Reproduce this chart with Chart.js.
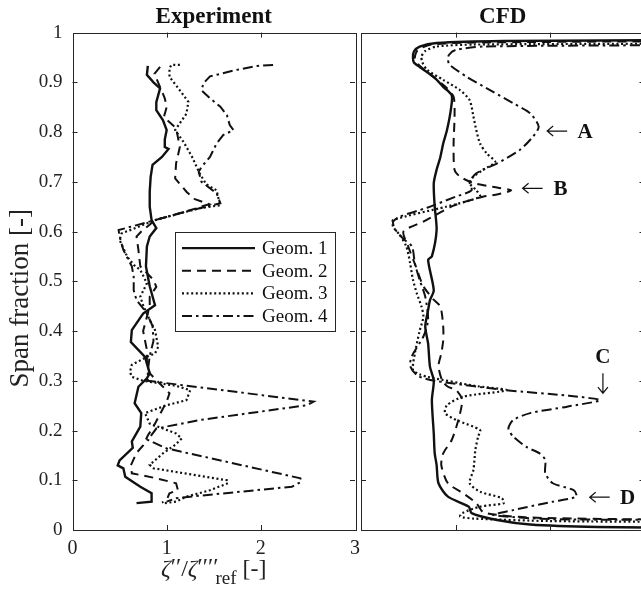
<!DOCTYPE html>
<html>
<head>
<meta charset="utf-8">
<script src="https://cdn.jsdelivr.net/npm/chart.js@4.4.1/dist/chart.umd.min.js"></script>
<style>
  html, body { margin: 0; padding: 0; background: #fff; overflow: hidden; }
  #wrap { position: relative; width: 641px; height: 590px; overflow: hidden; }
  .pane { position: absolute; top: 0; }
  #expPane { left: 0; }
  #cfdPane { left: 330px; }
</style>
</head>
<body>
<div id="wrap">
  <div class="pane" id="expPane"><canvas id="expChart" width="380" height="590"></canvas></div>
  <div class="pane" id="cfdPane"><canvas id="cfdChart" width="330" height="590"></canvas></div>
</div>
<script>
// [ratio, span fraction] pairs, traced from tip to hub as plotted
var geomLabels = ["Geom. 1", "Geom. 2", "Geom. 3", "Geom. 4"];
var ratioTicks = [0, 1, 2, 3];
var spanTicks = [0, 0.1, 0.2, 0.3, 0.4, 0.5, 0.6, 0.7, 0.8, 0.9, 1];

var expGeom1 = [[0.80,0.933],[0.79,0.915],[0.86,0.90],[0.93,0.888],[0.89,0.86],[0.89,0.844],[0.96,0.824],[1.00,0.804],[0.98,0.785],[0.98,0.77],[1.02,0.766],[0.95,0.75],[0.85,0.734],[0.83,0.71],[0.82,0.68],[0.82,0.65],[0.84,0.623],[0.89,0.607],[0.82,0.59],[0.79,0.57],[0.78,0.53],[0.82,0.49],[0.876,0.452],[0.75,0.435],[0.63,0.402],[0.62,0.378],[0.77,0.348],[0.82,0.315],[0.79,0.305],[0.70,0.288],[0.66,0.255],[0.73,0.235],[0.72,0.208],[0.63,0.178],[0.64,0.165],[0.50,0.14],[0.48,0.13],[0.54,0.124],[0.56,0.107],[0.72,0.087],[0.84,0.074],[0.84,0.057],[0.68,0.054]];
var expGeom2 = [[0.93,0.931],[0.87,0.917],[0.92,0.895],[0.98,0.868],[1.0,0.85],[0.97,0.83],[1.1,0.808],[1.14,0.77],[1.1,0.737],[1.09,0.707],[1.21,0.68],[1.3,0.665],[1.45,0.655],[1.2,0.64],[0.876,0.623],[0.73,0.60],[0.68,0.59],[0.70,0.563],[0.72,0.53],[0.86,0.503],[0.89,0.489],[0.82,0.469],[0.82,0.45],[0.75,0.40],[0.79,0.362],[0.79,0.335],[0.82,0.315],[0.95,0.29],[1.03,0.275],[1.0,0.258],[0.86,0.208],[0.80,0.19],[0.75,0.17],[0.68,0.155],[0.62,0.13],[0.63,0.114],[0.89,0.104],[1.1,0.094],[1.12,0.08],[1.03,0.074],[1.0,0.06],[0.95,0.055]];
var expGeom3 = [[1.14,0.935],[1.05,0.935],[1.03,0.928],[1.03,0.911],[1.1,0.894],[1.23,0.861],[1.21,0.837],[1.09,0.804],[1.18,0.78],[1.27,0.75],[1.35,0.717],[1.42,0.695],[1.53,0.683],[1.55,0.667],[1.57,0.653],[1.35,0.647],[0.876,0.623],[0.52,0.596],[0.50,0.583],[0.58,0.55],[0.65,0.533],[0.72,0.523],[0.79,0.496],[0.72,0.469],[0.75,0.452],[0.82,0.422],[0.876,0.402],[0.91,0.368],[0.876,0.355],[0.79,0.348],[0.63,0.332],[0.61,0.318],[0.63,0.308],[0.75,0.30],[1.1,0.29],[1.25,0.281],[1.21,0.261],[1.0,0.251],[0.77,0.235],[0.82,0.214],[1.1,0.194],[1.16,0.184],[1.09,0.171],[0.96,0.154],[0.82,0.131],[0.86,0.124],[1.64,0.10],[1.65,0.094],[1.46,0.08],[1.21,0.067],[1.1,0.057],[0.98,0.054]];
var expGeom4 = [[2.13,0.935],[1.96,0.933],[1.74,0.925],[1.46,0.912],[1.39,0.898],[1.37,0.884],[1.46,0.868],[1.57,0.851],[1.64,0.834],[1.67,0.814],[1.71,0.804],[1.60,0.794],[1.53,0.777],[1.46,0.75],[1.37,0.73],[1.34,0.72],[1.37,0.70],[1.53,0.677],[1.57,0.657],[1.2,0.64],[0.876,0.623],[0.49,0.603],[0.50,0.59],[0.54,0.563],[0.63,0.53],[0.65,0.509],[0.65,0.482],[0.68,0.462],[0.79,0.436],[0.85,0.41],[0.86,0.38],[0.82,0.35],[0.80,0.32],[0.80,0.30],[2.56,0.258],[2.49,0.251],[1.35,0.221],[0.89,0.204],[0.80,0.181],[1.0,0.164],[2.42,0.104],[2.43,0.097],[2.33,0.087],[1.25,0.067],[1.1,0.064],[1.0,0.057]];

var cfdGeom1 = [[3.6,0.985],[1.5,0.983],[0.8,0.979],[0.62,0.972],[0.56,0.962],[0.55,0.95],[0.56,0.94],[0.62,0.931],[0.77,0.911],[0.87,0.891],[0.96,0.874],[0.95,0.844],[0.91,0.804],[0.87,0.777],[0.84,0.75],[0.80,0.724],[0.77,0.697],[0.78,0.65],[0.80,0.603],[0.75,0.55],[0.71,0.543],[0.77,0.482],[0.73,0.462],[0.71,0.442],[0.68,0.409],[0.71,0.375],[0.73,0.328],[0.77,0.30],[0.75,0.261],[0.77,0.194],[0.78,0.154],[0.80,0.131],[0.82,0.094],[0.92,0.067],[1.14,0.047],[1.17,0.034],[1.44,0.02],[1.79,0.011],[2.5,0.006],[3.6,0.004]];
var cfdGeom2 = [[3.6,0.983],[1.2,0.98],[0.75,0.976],[0.6,0.965],[0.57,0.95],[0.6,0.937],[0.75,0.913],[0.9,0.89],[0.98,0.871],[0.99,0.831],[0.98,0.777],[0.99,0.724],[1.05,0.71],[1.2,0.697],[1.45,0.688],[1.59,0.683],[1.45,0.675],[1.29,0.67],[0.98,0.652],[0.66,0.62],[0.45,0.60],[0.50,0.57],[0.58,0.53],[0.66,0.49],[0.76,0.465],[0.84,0.449],[0.87,0.409],[0.87,0.382],[0.85,0.355],[0.82,0.33],[0.86,0.30],[0.92,0.288],[1.01,0.281],[1.07,0.261],[1.03,0.221],[0.96,0.181],[0.87,0.154],[0.85,0.13],[0.92,0.094],[1.08,0.074],[1.22,0.054],[1.3,0.035],[1.8,0.025],[3.6,0.02]];
var cfdGeom3 = [[3.6,0.978],[1.2,0.976],[0.8,0.972],[0.68,0.963],[0.64,0.952],[0.65,0.94],[0.70,0.925],[0.87,0.905],[1.05,0.884],[1.15,0.864],[1.19,0.831],[1.22,0.804],[1.26,0.777],[1.33,0.757],[1.42,0.74],[1.29,0.724],[1.19,0.71],[1.15,0.697],[1.22,0.683],[1.26,0.67],[0.9,0.65],[0.34,0.623],[0.34,0.61],[0.41,0.593],[0.48,0.57],[0.52,0.536],[0.55,0.503],[0.59,0.476],[0.64,0.449],[0.66,0.429],[0.62,0.40],[0.57,0.355],[0.55,0.322],[0.62,0.313],[0.70,0.308],[1.2,0.29],[1.54,0.281],[1.08,0.268],[0.91,0.251],[0.89,0.235],[1.01,0.221],[1.26,0.201],[1.24,0.188],[1.21,0.161],[1.19,0.121],[1.15,0.094],[1.26,0.077],[1.49,0.064],[1.51,0.054],[1.26,0.047],[1.07,0.034],[1.05,0.027],[1.19,0.023],[2.0,0.018],[3.6,0.016]];
var cfdGeom4 = [[3.6,0.975],[1.3,0.972],[1.0,0.965],[0.93,0.955],[0.92,0.945],[0.94,0.935],[1.12,0.911],[1.37,0.884],[1.61,0.858],[1.79,0.838],[1.88,0.811],[1.82,0.791],[1.68,0.764],[1.44,0.737],[1.22,0.717],[1.15,0.70],[1.17,0.683],[1.0,0.67],[0.7,0.648],[0.41,0.63],[0.34,0.62],[0.36,0.605],[0.45,0.585],[0.54,0.57],[0.57,0.536],[0.62,0.503],[0.68,0.469],[0.71,0.422],[0.66,0.389],[0.54,0.35],[0.52,0.33],[0.6,0.31],[0.78,0.30],[1.54,0.281],[2.2,0.27],[2.53,0.261],[2.18,0.248],[1.79,0.235],[1.61,0.221],[1.56,0.204],[1.61,0.188],[1.75,0.167],[1.89,0.154],[1.95,0.141],[1.95,0.114],[2.03,0.094],[2.25,0.08],[2.28,0.067],[2.03,0.057],[1.61,0.04],[1.40,0.03],[2.0,0.022],[3.6,0.02]];

var SERIF = '"Liberation Serif", "Times New Roman", "DejaVu Serif", serif';
var AXIS_COLOR = "#262626";

var lineStyles = [
  { dash: [], width: 2.4 },
  { dash: [9, 6], width: 2 },
  { dash: [2, 2.6], width: 2.2 },
  { dash: [10, 4, 2.5, 4], width: 2 }
];

function toPoints(pairs) {
  return pairs.map(function (p) { return { x: p[0], y: p[1] }; });
}

function makeDatasets(series, tension) {
  return series.map(function (pairs, i) {
    return {
      label: geomLabels[i],
      data: toPoints(pairs),
      showLine: true,
      fill: false,
      borderColor: "#111",
      borderWidth: lineStyles[i].width,
      borderDash: lineStyles[i].dash,
      pointRadius: 0,
      pointHoverRadius: 0,
      tension: tension
    };
  });
}

function spanLabel(v) {
  if (v === 0 || v === 1) return String(v);
  return v.toFixed(1);
}

// box around the axes with short inward tick marks on all four sides
var framePlugin = {
  id: "boxFrame",
  afterDatasetsDraw: function (chart) {
    var ctx = chart.ctx, a = chart.chartArea;
    var sx = chart.scales.x, sy = chart.scales.y;
    var len = 5;
    ctx.save();
    ctx.strokeStyle = AXIS_COLOR;
    ctx.lineWidth = 1;
    ctx.strokeRect(Math.round(a.left) + 0.5, Math.round(a.top) + 0.5,
      Math.round(a.right - a.left), Math.round(a.bottom - a.top));
    ctx.beginPath();
    ratioTicks.forEach(function (v) {
      if (v <= sx.min || v >= sx.max) return;
      var px = Math.round(sx.getPixelForValue(v)) + 0.5;
      ctx.moveTo(px, a.bottom); ctx.lineTo(px, a.bottom - len);
      ctx.moveTo(px, a.top); ctx.lineTo(px, a.top + len);
    });
    spanTicks.forEach(function (v) {
      if (v <= sy.min || v >= sy.max) return;
      var py = Math.round(sy.getPixelForValue(v)) + 0.5;
      ctx.moveTo(a.left, py); ctx.lineTo(a.left + len, py);
      ctx.moveTo(a.right, py); ctx.lineTo(a.right - len, py);
    });
    ctx.stroke();
    ctx.restore();
  }
};

// boxed legend inside the experiment axes
var legendBoxPlugin = {
  id: "legendBox",
  afterDraw: function (chart) {
    var ctx = chart.ctx, a = chart.chartArea;
    var x0 = a.left + 102.5, y0 = a.top + 199, w = 160, h = 99;
    ctx.save();
    ctx.fillStyle = "#fff";
    ctx.fillRect(x0, y0, w, h);
    ctx.strokeStyle = AXIS_COLOR;
    ctx.lineWidth = 1;
    ctx.strokeRect(Math.round(x0) + 0.5, Math.round(y0) + 0.5, w, h);
    ctx.font = "19px " + SERIF;
    ctx.textBaseline = "middle";
    ctx.fillStyle = "#111";
    chart.data.datasets.forEach(function (ds, i) {
      var y = y0 + 16.5 + i * 22.6;
      ctx.beginPath();
      ctx.setLineDash(ds.borderDash);
      ctx.lineWidth = ds.borderWidth;
      ctx.strokeStyle = ds.borderColor;
      ctx.moveTo(x0 + 7, y);
      ctx.lineTo(x0 + 80, y);
      ctx.stroke();
      ctx.setLineDash([]);
      ctx.fillText(ds.label, x0 + 87, y + 1);
    });
    ctx.restore();
  }
};

// axis captions: rotated span label and the x quantity with primes and "ref" subscript
var axisCaptionPlugin = {
  id: "axisCaptions",
  afterDraw: function (chart) {
    var ctx = chart.ctx, a = chart.chartArea;
    ctx.save();
    ctx.fillStyle = "#222";

    ctx.save();
    ctx.translate(21, (a.top + a.bottom) / 2 + 17);
    ctx.rotate(-Math.PI / 2);
    ctx.font = "27px " + SERIF;
    ctx.textAlign = "center";
    ctx.textBaseline = "middle";
    ctx.fillText("Span fraction [-]", 0, 0);
    ctx.restore();

    var cx = (a.left + a.right) / 2, base = a.bottom + 46;
    var main = "24px " + SERIF, ital = "italic 24px " + SERIF, sub = "19px " + SERIF;
    var parts = [
      { t: "\u03b6", f: ital },
      { t: "\u2032\u2032", f: main, dy: -2 },
      { t: "/", f: main },
      { t: "\u03b6", f: ital },
      { t: "\u2032\u2032\u2032\u2032", f: main, dy: -2, back: 3 },
      { t: "ref", f: sub, dy: 8 },
      { t: " [-]", f: main }
    ];
    ctx.textBaseline = "alphabetic";
    var widths = parts.map(function (p) {
      ctx.font = p.f;
      return ctx.measureText(p.t).width - (p.back || 0);
    });
    var total = widths.reduce(function (s, w) { return s + w; }, 0);
    var x = cx - total / 2;
    parts.forEach(function (p, i) {
      ctx.font = p.f;
      ctx.fillText(p.t, x, base + (p.dy || 0));
      x += widths[i];
    });
    ctx.restore();
  }
};

// lettered arrows pointing at the CFD features
var featureMarks = [
  { letter: "A", dir: "left", x: 1.97, y: 0.802 },
  { letter: "B", dir: "left", x: 1.71, y: 0.687 },
  { letter: "C", dir: "down", x: 2.56, y: 0.275 },
  { letter: "D", dir: "left", x: 2.42, y: 0.066 }
];

var featurePlugin = {
  id: "featureMarks",
  afterDraw: function (chart) {
    var ctx = chart.ctx, sx = chart.scales.x, sy = chart.scales.y;
    ctx.save();
    ctx.strokeStyle = "#111";
    ctx.fillStyle = "#111";
    ctx.lineWidth = 1.2;
    ctx.font = "bold 21px " + SERIF;
    ctx.textBaseline = "middle";
    ctx.textAlign = "center";
    featureMarks.forEach(function (m) {
      var px = sx.getPixelForValue(m.x), py = sy.getPixelForValue(m.y);
      ctx.beginPath();
      if (m.dir === "left") {
        ctx.moveTo(px, py); ctx.lineTo(px + 20, py);
        ctx.moveTo(px + 6, py - 5); ctx.lineTo(px, py); ctx.lineTo(px + 6, py + 5);
        ctx.stroke();
        ctx.fillText(m.letter, px + 38, py + 1);
      } else {
        ctx.moveTo(px, py); ctx.lineTo(px, py - 20);
        ctx.moveTo(px - 5, py - 6); ctx.lineTo(px, py); ctx.lineTo(px + 5, py - 6);
        ctx.stroke();
        ctx.fillText(m.letter, px, py - 36);
      }
    });
    ctx.restore();
  }
};

function makeOptions(title, withLabels, yWidth) {
  return {
    responsive: false,
    animation: false,
    events: [],
    layout: { padding: { left: 0, right: withLabels ? 25 : 15.5, top: 0, bottom: 0 } },
    plugins: {
      legend: { display: false },
      tooltip: { enabled: false },
      title: {
        display: true,
        text: title,
        fullSize: false,
        color: "#111",
        font: { family: SERIF, size: 23, weight: "bold" },
        padding: { top: 3, bottom: 2 }
      }
    },
    scales: {
      x: {
        type: "linear",
        min: 0,
        max: 3,
        afterBuildTicks: function (s) { s.ticks = ratioTicks.map(function (v) { return { value: v }; }); },
        ticks: {
          display: withLabels,
          color: "#222",
          padding: 7,
          maxRotation: 0,
          font: { family: SERIF, size: 20 }
        },
        grid: { display: false, drawTicks: false },
        border: { display: false },
        afterFit: function (s) { s.height = 60; }
      },
      y: {
        type: "linear",
        min: 0,
        max: 1,
        afterBuildTicks: function (s) { s.ticks = spanTicks.map(function (v) { return { value: v }; }); },
        ticks: {
          display: withLabels,
          color: "#222",
          padding: 10,
          font: { family: SERIF, size: 19 },
          callback: spanLabel
        },
        grid: { display: false, drawTicks: false },
        border: { display: false },
        afterFit: function (s) { s.width = yWidth; }
      }
    }
  };
}

new Chart(document.getElementById("expChart"), {
  type: "scatter",
  data: { datasets: makeDatasets([expGeom1, expGeom2, expGeom3, expGeom4], 0) },
  options: makeOptions("Experiment", true, 72.5),
  plugins: [framePlugin, legendBoxPlugin, axisCaptionPlugin]
});

new Chart(document.getElementById("cfdChart"), {
  type: "scatter",
  data: { datasets: makeDatasets([cfdGeom1, cfdGeom2, cfdGeom3, cfdGeom4], 0.25) },
  options: makeOptions("CFD", false, 31),
  plugins: [framePlugin, featurePlugin]
});
</script>
</body>
</html>
